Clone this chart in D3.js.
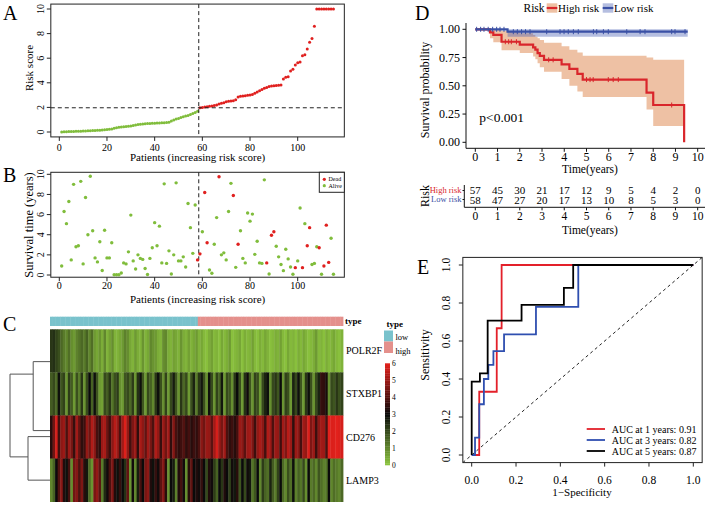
<!DOCTYPE html>
<html><head><meta charset="utf-8">
<script src="https://cdn.jsdelivr.net/npm/d3@7"></script>
<style>body{margin:0;background:#fff}svg{display:block}text{font-family:"Liberation Serif","Times New Roman",serif}</style>
</head><body><svg id="c" width="708" height="505"></svg>
<script>
// ================= DATA =================
const riskLow = [0.01,0.02,0.03,0.04,0.04,0.05,0.06,0.06,0.07,0.08,
 0.09,0.10,0.11,0.12,0.13,0.14,0.15,0.17,0.19,0.20,
 0.22,0.25,0.30,0.35,0.38,0.40,0.42,0.45,0.47,0.49,
 0.52,0.57,0.60,0.62,0.65,0.67,0.69,0.70,0.71,0.72,
 0.73,0.74,0.75,0.76,0.78,0.80,0.90,0.98,1.05,1.10,
 1.17,1.25,1.30,1.35,1.42,1.50,1.58,1.68];
const riskHigh = [1.98,2.00,2.03,2.06,2.09,2.12,2.15,2.20,2.28,2.33,
 2.38,2.45,2.50,2.53,2.55,2.62,2.85,2.90,2.92,2.95,
 2.98,3.00,3.05,3.15,3.25,3.35,3.45,3.55,3.62,3.70,
 3.75,3.76,3.78,3.80,3.82,4.30,4.45,4.50,4.95,5.10,
 5.45,5.62,5.70,6.20,6.28,6.75,7.30,7.60,8.60,10,
 10,10,10,10,10,10,10];
const riskCutoff = 1.97;
const patientTicks = [0,20,40,60,80,100];
const riskTicks = [0,2,4,6,8,10];

const survTime = [0.9,6.3,5.1,7.3,1.5,9.0,2.8,2.9,9.3,1.1,
 7.7,4.0,9.8,4.4,1.7,1.3,3.3,0.45,4.45,1.7,
 1.7,3.2,0.03,0.03,0.03,0.2,1.2,1.1,2.3,5.95,
 1.4,0.6,2.0,1.65,1.55,0.65,0.05,1.65,2.7,5.2,
 2.9,4.85,1.2,9.05,1.15,2.4,0.1,2.0,9.15,1.4,
 1.4,1.8,0.8,7.1,4.7,2.15,6.95,1.5,2.1,4.3,
 8.2,3.2,0.5,0.17,3.05,5.7,9.75,2.0,2.2,1.5,
 6.3,9.1,7.9,0.76,3.05,4.4,1.65,1.2,6.15,5.35,
 6.05,2.05,3.35,1.2,1.15,9.45,1.2,0.1,3.95,4.3,
 2.85,1.8,1.05,0.43,2.55,1.6,0.8,0.07,0.73,1.4,
 6.65,0.73,5.1,2.9,4.7,1.05,1.15,2.8,2.7,0.07,
 0.9,4.95,1.25,3.65,0.07];
const deadPatients = [58,59,61,62,67,73,75,87,89,90,99,102,104,105,109,111,112,113];
const survTicks = [0,2,4,6,8,10];

const genes = ["POLR2F","STXBP1","CD276","LAMP3"];
const exprPOLR2F = [2.3,2.4,2.1,1.9,1.5,1.2,1.0,1.4,0.9,0.7,1.1,1.3,1.5,1.2,1.6,1.0,1.4,0.7,0.5,0.8,
 0.4,1.0,0.3,0.6,0.9,0.3,0.3,0.5,0.7,1.1,
 0.9,0.5,0.3,0.7,0.4,0.3,0.8,0.3,0.5,1.0,
 0.8,0.7,0.4,0.3,0.9,1.0,0.4,0.3,0.6,0.5,
 0.3,0.8,0.4,0.3,0.6,0.3,0.5,0.7,
 0.3,0.5,0.2,0.1,0.4,0.6,0.2,0.3,0.1,0.5,
 0.2,0.4,0.7,0.1,0.2,0.3,0.5,0.1,0.4,0.2,
 0.3,0.6,0.2,0.1,0.4,0.2,0.5,0.3,0.1,0.2,
 0.4,0.3,0.6,0.2,0.1,0.5,0.2,0.3,0.1,0.4,
 0.2,0.5,0.3,0.1,0.2,0.4,0.7,0.2,0.3,0.1,
 0.4,0.2,0.3,0.5,0.2,0.1,0.3];
const exprSTXBP1 = [1.7,2.0,1.5,2.9,1.8,2.1,0.8,2.2,1.7,0.7,
 1.9,1.2,2.3,0.8,2.0,3.0,1.6,2.9,1.8,0.7,
 0.6,2.0,1.7,2.3,1.3,1.9,2.2,0.9,0.7,1.8,
 2.0,1.5,2.2,0.8,2.4,2.9,1.8,0.7,2.0,1.6,
 1.0,2.3,2.9,1.9,0.9,2.1,0.7,2.0,2.7,1.8,
 0.8,2.3,1.5,2.0,0.7,1.9,2.6,1.2,
 2.3,2.8,1.9,0.9,2.9,2.0,0.8,2.1,1.6,2.8,
 0.7,2.0,1.8,0.9,2.3,3.0,1.9,0.7,2.4,3.1,
 1.8,0.8,2.1,1.9,0.7,2.0,2.6,2.9,0.9,2.0,
 2.3,1.8,3.0,0.8,2.1,1.9,0.7,2.6,2.0,2.9,
 1.8,0.7,2.3,2.9,1.9,0.8,2.0,2.6,3.6,3.5,
 3.2,0.9,2.0,1.8,2.3,1.9,2.1];
const exprCD276 = [3.4,4.4,5.8,3.7,4.8,5.0,3.9,5.0,4.5,3.6,
 5.1,4.2,3.5,3.7,4.9,4.4,5.3,4.8,3.8,3.5,
 5.0,5.2,4.3,3.7,4.8,5.4,5.0,3.9,5.1,5.9,
 4.9,3.8,4.6,5.0,3.5,5.2,4.8,4.2,5.1,4.5,
 3.9,5.3,4.9,3.6,5.0,4.4,5.1,3.5,4.7,3.8,
 3.5,3.7,4.0,3.5,3.8,3.4,3.7,3.5,
 3.9,4.8,4.4,5.0,4.9,4.1,5.1,5.8,5.0,4.5,
 5.1,3.9,3.5,3.7,3.4,3.8,5.0,4.8,4.1,5.0,
 5.1,4.6,3.7,4.9,5.2,4.8,3.8,5.3,5.0,3.9,
 5.0,4.9,3.7,5.1,4.6,5.4,5.0,3.5,5.0,4.8,
 3.8,5.1,4.9,5.9,4.6,5.0,3.7,4.8,5.1,5.0,
 3.9,6.0,5.9,5.9,6.0,5.9,5.8];
const exprLAMP3 = [1.0,1.6,3.0,4.0,4.8,3.3,2.9,3.8,0.9,4.4,
 4.7,3.9,4.6,3.4,2.8,1.4,0.8,4.5,4.9,4.1,
 1.2,2.5,3.1,3.9,4.6,3.3,2.9,3.6,3.0,2.4,
 4.2,0.8,3.1,1.0,2.7,3.8,3.0,4.5,4.8,3.3,
 2.9,3.6,3.1,4.1,4.7,3.4,0.8,3.0,2.7,1.1,
 3.3,3.8,3.1,0.9,3.4,4.2,3.0,3.3,
 3.1,3.6,3.0,2.0,3.3,3.1,2.2,1.6,3.0,2.3,
 3.3,3.0,2.1,3.1,2.8,3.4,1.8,3.0,2.0,3.1,
 2.8,1.3,1.8,3.0,1.0,2.2,1.6,1.4,2.6,1.7,
 1.2,2.1,3.0,1.5,1.0,1.9,1.4,2.9,1.1,1.6,
 1.3,2.0,0.9,3.0,1.2,1.5,1.0,1.8,1.4,1.1,
 1.3,3.0,1.0,1.4,1.2,1.0,1.5];
const legendTicks = [0,1,2,3,4,5,6];
// dendrogram segments: [height1,rowPos1,height2,rowPos2]
const dendroSegs = [[0,0.75,0.42,0.75],[0.42,0.75,0.42,2.35],[0,2.35,0.42,2.35],
 [0,2.49,0.55,2.49],[0.55,2.49,0.55,3.5],[0,3.5,0.55,3.5],
 [0.42,1.04,1.0,1.04],[1.0,1.04,1.0,2.96],[0.55,2.96,1.0,2.96]];

const highT  = [0,0.66,0.81,1.18,2.0,2.6,2.7,2.8,2.9,3.09,3.88,4.23,4.59,4.83,7.7,8.0,9.39];
const highS  = [1,0.973,0.95,0.89,0.865,0.84,0.82,0.79,0.765,0.73,0.69,0.65,0.605,0.555,0.44,0.33,0];
const highUp = [1,1,1,0.985,0.965,0.95,0.935,0.92,0.905,0.88,0.85,0.82,0.795,0.765,0.75,0.73,0.73];
const highLo = [1,0.92,0.885,0.815,0.79,0.76,0.735,0.7,0.665,0.625,0.56,0.5,0.45,0.4,0.29,0.145,0.145];
const lowT  = [0,1.45,9.55];
const lowS  = [1,0.979,0.979];
const lowUp = [1,1,1];
const lowLo = [1,0.935,0.935];
const highCensor = [1.35,1.5,1.62,1.85,3.3,3.5,5.0,5.16,5.3,5.98,6.2,6.43,8.83];
const lowCensor = [0.06,0.24,0.39,0.58,0.78,0.96,1.11,1.29,1.71,1.89,2.08,2.26,2.46,3.21,3.81,3.99,4.18,4.41,4.63,5.31,5.46,5.76,5.98,6.81,7.41,7.63,8.83,8.98,9.43];
const kmYTicks = [0,0.25,0.5,0.75,1];
const timeTicks = [0,1,2,3,4,5,6,7,8,9,10];
const highAtRisk = [57,45,30,21,17,12,9,5,4,2,0];
const lowAtRisk  = [58,47,27,20,17,13,10,8,5,3,0];

const roc1 = [[0,0],[0.034,0],[0.034,0.333],[0.113,0.333],[0.113,0.667],[0.135,0.667],[0.135,1],[1,1]];
const roc3 = [[0,0],[0.015,0],[0.015,0.091],[0.034,0.091],[0.034,0.267],[0.055,0.267],[0.055,0.4],[0.075,0.4],[0.075,0.474],[0.098,0.474],[0.098,0.547],[0.146,0.547],[0.146,0.635],[0.29,0.635],[0.29,0.78],[0.481,0.78],[0.481,1],[1,1]];
const roc5 = [[0,0],[0,0.386],[0.037,0.386],[0.037,0.43],[0.072,0.43],[0.072,0.707],[0.225,0.707],[0.225,0.79],[0.416,0.79],[0.416,0.88],[0.458,0.88],[0.458,1],[1,1]];
const rocLabels = ["AUC at 1 years: 0.91","AUC at 3 years: 0.82","AUC at 5 years: 0.87"];
const rocTicks = [0,0.2,0.4,0.6,0.8,1.0];

// ================= DRAW =================
const FONT = '"Liberation Serif","Times New Roman",serif';
const svg = d3.select('#c');
svg.append('rect').attr('width',708).attr('height',505).attr('fill','#fff');
function T(x,y,s,o={}){const t=svg.append('text').attr('x',x).attr('y',y).text(s).attr('font-family',FONT)
 .attr('font-size',o.size||11).attr('fill',o.fill||'#000').attr('text-anchor',o.anchor||'start');
 if(o.rot) t.attr('transform',`rotate(${o.rot},${x},${y})`); if(o.weight) t.attr('font-weight',o.weight); return t;}
function L(x1,y1,x2,y2,o={}){return svg.append('line').attr('x1',x1).attr('y1',y1).attr('x2',x2).attr('y2',y2)
 .attr('stroke',o.stroke||'#222').attr('stroke-width',o.w||1).attr('stroke-dasharray',o.dash||null);}
const RED='#E0201F', GREEN='#80BD3C';

// panel letters
T(3,20,'A',{size:20}); T(3,182,'B',{size:20}); T(3,331,'C',{size:20}); T(415,20,'D',{size:20}); T(417,273.5,'E',{size:20});

// ---- Panel A ----
const riskScore = riskLow.concat(riskHigh);
const nLow = riskLow.length;
const xP = d3.scaleLinear().domain([0,100]).range([59.3,297.7]);
const pL = xP(-3.56), pR = xP(119.56);
const yA = d3.scaleLinear().domain([0,10]).range([132,9]);
svg.append('rect').attr('x',pL).attr('y',yA(10.4)).attr('width',pR-pL).attr('height',yA(-0.4)-yA(10.4)).attr('fill','none').attr('stroke','#222');
patientTicks.forEach(v=>{L(xP(v),yA(-0.4),xP(v),yA(-0.4)+4); T(xP(v),150.5,v,{size:10,anchor:'middle'});});
riskTicks.forEach(v=>{L(pL,yA(v),pL-4,yA(v)); T(44,yA(v),v,{size:10,anchor:'middle',rot:-90});});
T(33,68,'Risk score',{size:11,anchor:'middle',rot:-90});
T((pL+pR)/2,160.5,'Patients (increasing risk score)',{size:11,anchor:'middle'});
svg.append('g').selectAll('circle').data(riskScore).join('circle')
 .attr('cx',(d,i)=>xP(i+1)).attr('cy',d=>yA(d)).attr('r',1.5).attr('fill',(d,i)=>i<nLow?GREEN:RED);
L(xP(nLow+0.5),yA(10.4),xP(nLow+0.5),yA(-0.4),{dash:'4,3'});
L(pL,yA(riskCutoff),pR,yA(riskCutoff),{dash:'4,3'});

// ---- Panel B ----
const yB = d3.scaleLinear().domain([0,10]).range([275,174.3]);
svg.append('rect').attr('x',pL).attr('y',yB(10.2)).attr('width',pR-pL).attr('height',yB(-0.22)-yB(10.2)).attr('fill','none').attr('stroke','#222');
patientTicks.forEach(v=>{L(xP(v),yB(-0.22),xP(v),yB(-0.22)+4); T(xP(v),289,v,{size:10,anchor:'middle'});});
survTicks.forEach(v=>{L(pL,yB(v),pL-4,yB(v)); T(44,yB(v),v,{size:10,anchor:'middle',rot:-90});});
T(33,225,'Survival time (years)',{size:12.5,anchor:'middle',rot:-90});
T((pL+pR)/2,302.5,'Patients (increasing risk score)',{size:11,anchor:'middle'});
L(xP(nLow+0.5),yB(10.2),xP(nLow+0.5),yB(-0.22),{dash:'4,3'});
const deadSet = new Set(deadPatients);
svg.append('g').selectAll('circle').data(survTime).join('circle')
 .attr('cx',(d,i)=>xP(i+1)).attr('cy',d=>yB(d)).attr('r',1.7).attr('fill',(d,i)=>deadSet.has(i+1)?RED:GREEN);
svg.append('rect').attr('x',319.3).attr('y',yB(10.2)).attr('width',pR-319.3).attr('height',20).attr('fill','#fff').attr('stroke','#222');
svg.append('circle').attr('cx',324.3).attr('cy',179.3).attr('r',1.6).attr('fill',RED);
svg.append('circle').attr('cx',324.3).attr('cy',185.7).attr('r',1.6).attr('fill',GREEN);
T(328.5,181.3,'Dead',{size:6}); T(328.5,187.7,'Alive',{size:6});

// ---- Panel C ----
const exprRows = [exprPOLR2F,exprSTXBP1,exprCD276,exprLAMP3];
const cols = d3.range(riskScore.length);
const xH = d3.scaleBand().domain(cols).range([50,343]);
const yH = d3.scaleBand().domain(genes).range([329.3,501.7]);
const colorH = d3.scaleLinear().domain([0,3,6]).range(['#8DC63F','#0a0a0a','#E3211C']);
const typeCol = {low:'#79C2CC', high:'#E4908C'};
svg.append('g').selectAll('rect').data(cols).join('rect')
 .attr('x',d=>xH(d)).attr('y',316.7).attr('width',xH.bandwidth()+0.4).attr('height',9.3)
 .attr('fill',d=>d<nLow?typeCol.low:typeCol.high);
genes.forEach((g,gi)=>{
 svg.append('g').selectAll('rect').data(exprRows[gi]).join('rect')
  .attr('x',(d,i)=>xH(i)).attr('y',yH(g)).attr('width',xH.bandwidth()+0.4).attr('height',yH.bandwidth()+0.3)
  .attr('fill',d=>colorH(d));
 T(346,yH(g)+yH.bandwidth()/2+3.5,g,{size:10});
});
T(345,323.5,'type',{size:9,weight:'bold'});
const xDen = d3.scaleLinear().domain([0,1]).range([50,10]);
const yDen = d3.scaleLinear().domain([0,4]).range([329.3,501.7]);
dendroSegs.forEach(s=>L(xDen(s[0]),yDen(s[1]),xDen(s[2]),yDen(s[3]),{stroke:'#555',w:1}));
// legend
T(386.5,327,'type',{size:9,weight:'bold'});
svg.append('rect').attr('x',384).attr('y',330.5).attr('width',9).attr('height',11).attr('fill',typeCol.low);
svg.append('rect').attr('x',384).attr('y',341.5).attr('width',9).attr('height',11.5).attr('fill',typeCol.high);
T(395.5,339.5,'low',{size:8.5}); T(395.5,354,'high',{size:8.5});
const yLeg = d3.scaleLinear().domain([0,6]).range([465,363.3]);
const legSteps = d3.range(0,6,0.1);
svg.append('g').selectAll('rect').data(legSteps).join('rect')
 .attr('x',385).attr('width',5).attr('y',d=>yLeg(d+0.1)).attr('height',yLeg(0)-yLeg(0.1)+0.3).attr('fill',d=>colorH(d+0.05));
legendTicks.forEach(v=>T(392,yLeg(v)+2.5,v,{size:7.5}));

// ---- Panel D ----
const xD = d3.scaleLinear().domain([0,10]).range([475.3,697.7]);
const yD = d3.scaleLinear().domain([0,1]).range([142.3,29.3]);
const bandHigh = highT.slice(0,-1).map((t,i)=>[t,highUp[i],highLo[i]]);
bandHigh.push([highT[highT.length-1],highUp[highT.length-2],highLo[highT.length-2]]);
const bandLow = lowT.map((t,i)=>[t,lowUp[i],lowLo[i]]);
const areaD = d3.area().x(d=>xD(d[0])).y0(d=>yD(d[2])).y1(d=>yD(d[1])).curve(d3.curveStepAfter);
const HB='#EEC1A4', LBc='#4F63B4', HR='#D9262B', LB='#3A50A5';
svg.append('path').attr('d',areaD(bandHigh)).attr('fill',HB);
svg.append('path').attr('d',areaD(bandLow)).attr('fill',LBc).attr('opacity',0.42);
const lineD = d3.line().x(d=>xD(d[0])).y(d=>yD(d[1])).curve(d3.curveStepAfter);
svg.append('path').attr('d',lineD(highT.map((t,i)=>[t,highS[i]]))).attr('fill','none').attr('stroke',HR).attr('stroke-width',2.2);
svg.append('path').attr('d',lineD(lowT.map((t,i)=>[t,lowS[i]]))).attr('fill','none').attr('stroke',LB).attr('stroke-width',2.2);
function stepVal(T_,S_,t){return S_[d3.bisectRight(T_,t)-1];}
highCensor.forEach(t=>{const y=yD(stepVal(highT,highS,t)); L(xD(t),y-2.5,xD(t),y+2.5,{stroke:HR,w:1});});
lowCensor.forEach(t=>{const y=yD(stepVal(lowT,lowS,t)); L(xD(t),y-2.5,xD(t),y+2.5,{stroke:LB,w:1});});
L(466,23,466,148.3,{stroke:'#111'}); L(466,148.3,705,148.3,{stroke:'#111'});
kmYTicks.forEach(v=>{L(466,yD(v),462.5,yD(v),{stroke:'#111'}); T(460,yD(v)+4,v.toFixed(2),{size:12,anchor:'end'});});
timeTicks.forEach(v=>{L(xD(v),148.3,xD(v),151.8,{stroke:'#111'}); T(xD(v),160.5,v,{size:12,anchor:'middle'});});
T(429,90,'Survival probability',{size:12,anchor:'middle',rot:-90});
T(590,173,'Time(years)',{size:11.5,anchor:'middle'});
T(479.3,122,'p<0.001',{size:13.5});
// legend
T(523.5,12,'Risk',{size:11.5});
svg.append('rect').attr('x',546.7).attr('y',3.3).attr('width',10.6).attr('height',9.4).attr('fill',HB);
L(546.7,8,557.3,8,{stroke:HR,w:2.2});
T(558,12,'High risk',{size:11});
svg.append('rect').attr('x',602.7).attr('y',3.3).attr('width',10.6).attr('height',9.4).attr('fill',LBc).attr('opacity',0.42);
L(602.7,8,613.3,8,{stroke:LB,w:2.2});
T(614,12,'Low risk',{size:11});
// risk table
L(464.3,185,464.3,207.3,{stroke:'#111'}); L(464.3,207.3,705,207.3,{stroke:'#111'});
L(462.5,190.5,464.3,190.5,{stroke:'#111'}); L(462.5,199.5,464.3,199.5,{stroke:'#111'});
T(461.5,193.3,'High risk',{size:8.5,anchor:'end',fill:HR});
T(461.5,202.3,'Low risk',{size:8.5,anchor:'end',fill:LB});
T(429,196,'Risk',{size:12,anchor:'middle',rot:-90});
timeTicks.forEach((v,i)=>{T(xD(v),194.2,highAtRisk[i],{size:11,anchor:'middle'}); T(xD(v),203.8,lowAtRisk[i],{size:11,anchor:'middle'});
 L(xD(v),207.3,xD(v),210.3,{stroke:'#111'}); T(xD(v),220,v,{size:11.5,anchor:'middle'});});
T(590,234,'Time(years)',{size:11.5,anchor:'middle'});

// ---- Panel E ----
const xE = d3.scaleLinear().domain([0,1]).range([471.7,693.3]);
const yE = d3.scaleLinear().domain([0,1]).range([455,265]);
const eL=xE(-0.04), eR=xE(1.04), eT=yE(1.04), eB=yE(-0.04);
svg.append('defs').append('clipPath').attr('id','ce').append('rect').attr('x',eL).attr('y',eT).attr('width',eR-eL).attr('height',eB-eT);
svg.append('line').attr('clip-path','url(#ce)').attr('x1',xE(-0.04)).attr('y1',yE(-0.04)).attr('x2',xE(1.04)).attr('y2',yE(1.04)).attr('stroke','#222').attr('stroke-dasharray','3,3');
const lineE = d3.line().x(d=>xE(d[0])).y(d=>yE(d[1]));
const rocCols = ['#E3202A','#2F4FB0','#000'];
[roc1,roc3,roc5].forEach((r,i)=>svg.append('path').attr('d',lineE(r)).attr('fill','none').attr('stroke',rocCols[i]).attr('stroke-width',1.8));
svg.append('rect').attr('x',eL).attr('y',eT).attr('width',eR-eL).attr('height',eB-eT).attr('fill','none').attr('stroke','#222');
rocTicks.forEach(v=>{L(eL,yE(v),eL-4,yE(v)); T(449.5,yE(v),v.toFixed(1),{size:11.5,anchor:'middle',rot:-90});
 L(xE(v),eB,xE(v),eB+4); T(xE(v),483.5,v.toFixed(1),{size:11.5,anchor:'middle'});});
T(428.5,355,'Sensitivity',{size:12,anchor:'middle',rot:-90});
T(582,495.5,'1\u2212Specificity',{size:11,anchor:'middle'});
rocLabels.forEach((s,i)=>{const y=429+i*11; L(586.7,y,605,y,{stroke:rocCols[i],w:1.8}); T(611.7,y+3.5,s,{size:10});});
</script></body></html>
